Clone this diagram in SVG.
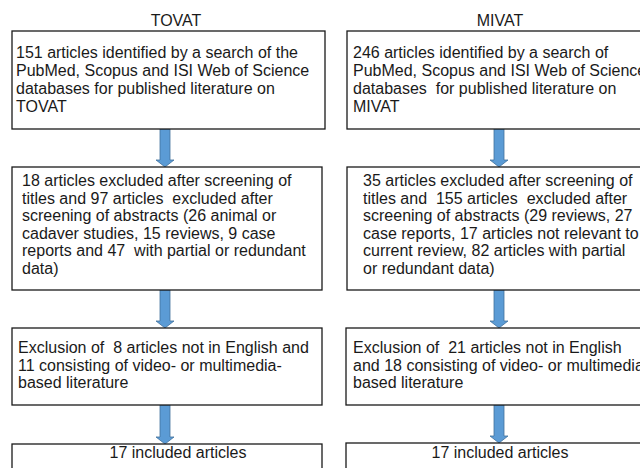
<svg xmlns="http://www.w3.org/2000/svg" width="640" height="468" viewBox="0 0 640 468">
<style>
.box{fill:#fff;stroke:#1a1a1a;stroke-width:1.3}
text{font-family:"Liberation Sans",Arial,sans-serif;font-size:16px;fill:#1a1a1a;white-space:pre}
.c{text-anchor:middle}
.arr{fill:#5B9BD5;stroke:#41719C;stroke-width:0.8}
</style>
<rect width="640" height="468" fill="#fff"/>
<text class="c" x="176" y="26">TOVAT</text>
<text class="c" x="500" y="26">MIVAT</text>
<g id="connectors">
<polygon class="arr" points="160,129 170,129 170,160 174,160 165,167 156,160 160,160"/>
<polygon class="arr" points="160,290 170,290 170,321 174,321 165,328 156,321 160,321"/>
<polygon class="arr" points="160,405 170,405 170,437 174,437 165,444 156,437 160,437"/>
<polygon class="arr" points="494,129 504,129 504,160 508,160 499,167 490,160 494,160"/>
<polygon class="arr" points="494,290 504,290 504,321 508,321 499,328 490,321 494,321"/>
<polygon class="arr" points="494,405 504,405 504,436 508,436 499,443 490,436 494,436"/>
</g>
<g id="tovat-search">
<rect class="box" x="12" y="31" width="313" height="98"/>
<text x="16" y="58">151 articles identified by a search of the</text>
<text x="16" y="76">PubMed, Scopus and ISI Web of Science</text>
<text x="16" y="94">databases for published literature on</text>
<text x="16" y="112">TOVAT</text>
</g>
<g id="tovat-screening">
<rect class="box" x="12" y="167" width="310" height="123"/>
<text x="22" y="186">18 articles excluded after screening of</text>
<text x="22" y="203.6" xml:space="preserve">titles and 97 articles  excluded after</text>
<text x="22" y="221.2">screening of abstracts (26 animal or</text>
<text x="22" y="238.8">cadaver studies, 15 reviews, 9 case</text>
<text x="22" y="256.4" xml:space="preserve">reports and 47  with partial or redundant</text>
<text x="22" y="274">data)</text>
</g>
<g id="tovat-exclusion">
<rect class="box" x="12" y="328" width="310" height="77"/>
<text x="18" y="353" xml:space="preserve">Exclusion of  8 articles not in English and</text>
<text x="18" y="370.6">11 consisting of video- or multimedia-</text>
<text x="18" y="388.2">based literature</text>
</g>
<g id="tovat-included">
<rect class="box" x="12" y="444" width="310" height="40"/>
<text class="c" x="178" y="458">17 included articles</text>
</g>
<g id="mivat-search">
<rect class="box" x="347" y="31" width="320" height="98"/>
<text x="353" y="58">246 articles identified by a search of</text>
<text x="353" y="76">PubMed, Scopus and ISI Web of Science</text>
<text x="353" y="94" xml:space="preserve">databases  for published literature on</text>
<text x="353" y="112">MIVAT</text>
</g>
<g id="mivat-screening">
<rect class="box" x="347" y="167" width="320" height="123"/>
<text x="363" y="186">35 articles excluded after screening of</text>
<text x="363" y="203.6" xml:space="preserve">titles and  155 articles  excluded after</text>
<text x="363" y="221.2">screening of abstracts (29 reviews, 27</text>
<text x="363" y="238.8">case reports, 17 articles not relevant to</text>
<text x="363" y="256.4">current review, 82 articles with partial</text>
<text x="363" y="274">or redundant data)</text>
</g>
<g id="mivat-exclusion">
<rect class="box" x="346" y="328" width="320" height="77"/>
<text x="353" y="353" xml:space="preserve">Exclusion of  21 articles not in English</text>
<text x="353" y="370.6">and 18 consisting of video- or multimedia-</text>
<text x="353" y="388.2">based literature</text>
</g>
<g id="mivat-included">
<rect class="box" x="346" y="443" width="320" height="40"/>
<text class="c" x="500" y="458">17 included articles</text>
</g>
</svg>
